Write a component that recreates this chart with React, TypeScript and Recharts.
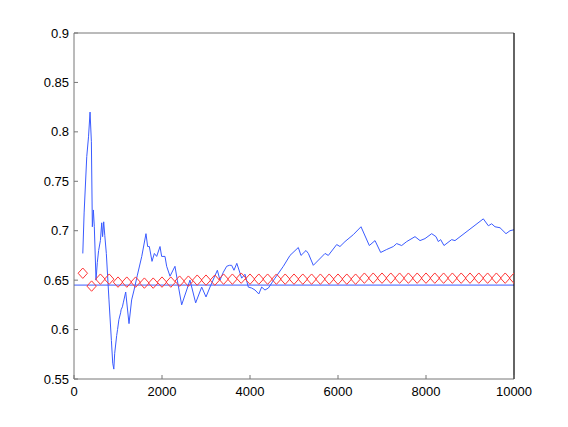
import React from 'react';
import { ComposedChart, Line, Scatter, XAxis, YAxis } from 'recharts';

const blueX = [200, 230, 290, 330, 365, 395, 417, 440, 462, 500, 530, 560, 600, 630, 650, 675, 700, 735, 795, 850, 880, 905, 925, 970, 990, 1020, 1060, 1070, 1100, 1120, 1175, 1250, 1310, 1365, 1440, 1540, 1636, 1674, 1712, 1773, 1826, 1879, 1955, 1992, 2068, 2106, 2182, 2295, 2348, 2447, 2561, 2636, 2765, 2902, 3000, 3091, 3258, 3318, 3394, 3470, 3530, 3583, 3636, 3700, 3811, 3886, 3962, 4038, 4114, 4200, 4265, 4340, 4417, 4568, 4758, 4909, 5098, 5159, 5273, 5326, 5439, 5705, 5780, 5970, 6045, 6159, 6348, 6523, 6712, 6841, 6970, 7106, 7258, 7333, 7447, 7561, 7750, 7864, 7977, 8129, 8227, 8280, 8333, 8409, 8583, 8659, 9303, 9417, 9492, 9568, 9682, 9818, 9909, 10000];
const blueY = [0.677, 0.718, 0.775, 0.795, 0.820, 0.790, 0.704, 0.721, 0.704, 0.650, 0.668, 0.680, 0.690, 0.708, 0.694, 0.709, 0.695, 0.677, 0.630, 0.589, 0.566, 0.560, 0.576, 0.594, 0.600, 0.610, 0.617, 0.620, 0.623, 0.627, 0.638, 0.606, 0.630, 0.640, 0.655, 0.674, 0.697, 0.684, 0.684, 0.669, 0.677, 0.674, 0.684, 0.674, 0.674, 0.664, 0.654, 0.664, 0.650, 0.625, 0.640, 0.650, 0.627, 0.643, 0.633, 0.643, 0.660, 0.650, 0.658, 0.664, 0.665, 0.665, 0.660, 0.667, 0.652, 0.656, 0.643, 0.642, 0.640, 0.636, 0.643, 0.640, 0.642, 0.652, 0.664, 0.675, 0.683, 0.675, 0.680, 0.677, 0.665, 0.677, 0.675, 0.686, 0.684, 0.689, 0.696, 0.704, 0.685, 0.690, 0.678, 0.681, 0.684, 0.687, 0.685, 0.689, 0.694, 0.690, 0.692, 0.697, 0.694, 0.689, 0.691, 0.685, 0.691, 0.690, 0.712, 0.705, 0.707, 0.704, 0.703, 0.697, 0.700, 0.701];

const redX = [200, 400, 600, 800, 1000, 1200, 1400, 1600, 1800, 2000, 2200, 2400, 2600, 2800, 3000, 3200, 3400, 3600, 3800, 4000, 4200, 4400, 4600, 4800, 5000, 5200, 5400, 5600, 5800, 6000, 6200, 6400, 6600, 6800, 7000, 7200, 7400, 7600, 7800, 8000, 8200, 8400, 8600, 8800, 9000, 9200, 9400, 9600, 9800, 10000];
const redY = [0.657, 0.644, 0.651, 0.651, 0.648, 0.648, 0.648, 0.647, 0.647, 0.648, 0.648, 0.649, 0.649, 0.650, 0.650, 0.650, 0.651, 0.651, 0.652, 0.651, 0.651, 0.651, 0.651, 0.651, 0.651, 0.651, 0.651, 0.651, 0.651, 0.651, 0.651, 0.651, 0.652, 0.652, 0.652, 0.652, 0.652, 0.652, 0.652, 0.652, 0.652, 0.652, 0.652, 0.652, 0.652, 0.652, 0.652, 0.652, 0.652, 0.652];

const baseX = [0, 10000];
const baseY = [0.645, 0.645];

const xTicks = [0, 2000, 4000, 6000, 8000, 10000];
const yTicks = [0.55, 0.6, 0.65, 0.7, 0.75, 0.8, 0.85, 0.9];

const blueData = blueX.map((x, i) => ({ x, y: blueY[i] }));
const redData = redX.map((x, i) => ({ x, y: redY[i] }));
const baseData = baseX.map((x, i) => ({ x, y: baseY[i] }));

const FONT = '"Liberation Sans", Arial, Helvetica, sans-serif';
const BLUE = '#3a5bff';
const RED = '#ff3535';

const XTick = (props: any) => {
  const { x, y, payload } = props;
  const axisY = y - 8;
  return (
    <g>
      <line x1={x} x2={x} y1={axisY} y2={axisY - 4} stroke="#777" strokeWidth={1} />
      <text x={x} y={y} dy="0.71em" textAnchor="middle" fontSize={13} fontFamily={FONT} fill="#000">
        {String(payload.value)}
      </text>
    </g>
  );
};

const YTick = (props: any) => {
  const { x, y, payload } = props;
  const axisX = x + 5;
  return (
    <g>
      <line x1={axisX} x2={axisX + 4} y1={y} y2={y} stroke="#777" strokeWidth={1} />
      <text x={x} y={y} dy="0.355em" textAnchor="end" fontSize={13} fontFamily={FONT} fill="#000">
        {String(Number(payload.value.toFixed(2)))}
      </text>
    </g>
  );
};

const Diamond = (props: any) => {
  const { cx, cy } = props;
  const hw = 4.7;
  const hh = 5.2;
  return (
    <polygon
      points={`${cx},${cy - hh} ${cx + hw},${cy} ${cx},${cy + hh} ${cx - hw},${cy}`}
      fill="none"
      stroke={RED}
      strokeWidth={1}
    />
  );
};

export default function App() {
  return (
    <div style={{ position: 'absolute', left: 0, top: 0, background: '#fff' }}>
      <ComposedChart
        width={568}
        height={427}
        margin={{ top: 32, right: 53, bottom: 47, left: 73 }}
      >
        <XAxis
          xAxisId="b"
          dataKey="x"
          type="number"
          domain={[0, 10000]}
          ticks={xTicks}
          height={1}
          tickSize={0}
          tickMargin={8}
          tickLine={false}
          axisLine={{ stroke: '#777', strokeWidth: 1 }}
          tick={<XTick />}
          interval={0}
          allowDataOverflow
        />
        <XAxis
          xAxisId="t"
          orientation="top"
          type="number"
          domain={[0, 10000]}
          height={1}
          tick={false}
          tickLine={false}
          axisLine={{ stroke: '#777', strokeWidth: 1 }}
        />
        <YAxis
          yAxisId="l"
          dataKey="y"
          type="number"
          domain={[0.55, 0.9]}
          ticks={yTicks}
          width={1}
          tickSize={0}
          tickMargin={5}
          tickLine={false}
          axisLine={{ stroke: '#777', strokeWidth: 1 }}
          tick={<YTick />}
          interval={0}
          allowDataOverflow
        />
        <YAxis
          yAxisId="r"
          orientation="right"
          type="number"
          domain={[0.55, 0.9]}
          width={1}
          tick={false}
          tickLine={false}
          axisLine={{ stroke: '#111', strokeWidth: 1.3 }}
        />
        <Line
          xAxisId="b"
          yAxisId="l"
          data={baseData}
          dataKey="y"
          type="linear"
          stroke={BLUE}
          strokeWidth={1}
          dot={false}
          isAnimationActive={false}
        />
        <Line
          xAxisId="b"
          yAxisId="l"
          data={blueData}
          dataKey="y"
          type="linear"
          stroke={BLUE}
          strokeWidth={1}
          dot={false}
          isAnimationActive={false}
        />
        <Scatter
          xAxisId="b"
          yAxisId="l"
          data={redData}
          dataKey="y"
          shape={<Diamond />}
          isAnimationActive={false}
        />
      </ComposedChart>
    </div>
  );
}
